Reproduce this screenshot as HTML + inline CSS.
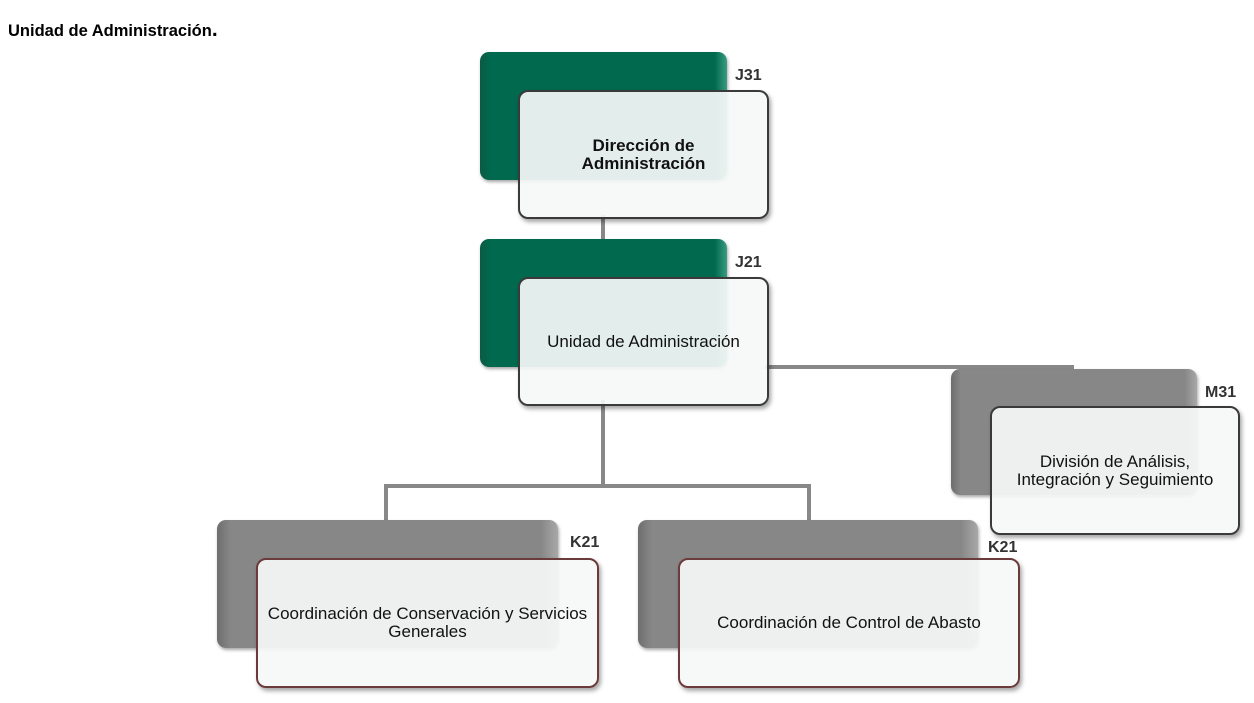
<!DOCTYPE html>
<html><head><meta charset="utf-8"><style>
body{margin:0;width:1254px;height:703px;background:#fff;position:relative;overflow:hidden;font-family:"Liberation Sans",Arial,sans-serif}
.a{position:absolute}
.back{position:absolute;border-radius:9px;box-shadow:1px 2px 3px rgba(0,0,0,.35)}
.g{background:linear-gradient(90deg,#0c5a44 0,#00694e 4%,#00694e 95%,#3a9c80 100%)}
.k{background:linear-gradient(90deg,#6e6e6e 0,#878787 4%,#878787 95%,#a8a8a8 100%)}
.front{position:absolute;border-radius:10px;border:2px solid #3a3a3a;background:rgba(246,248,248,.92);box-shadow:2px 3px 4px rgba(0,0,0,.35);display:flex;align-items:center;justify-content:center;text-align:center;font-size:17px;color:#111;line-height:18px;box-sizing:border-box}
.fr{border-color:#6b3a3a}
.lbl{position:absolute;font-weight:bold;font-size:16px;color:#333}
.ln{position:absolute;background:#888}
</style></head><body>
<div class="a" style="left:8px;top:18px;font-weight:bold;font-size:16.5px">Unidad de Administración<span style="font-size:21px">.</span></div>

<div class="ln" style="left:601px;top:215px;width:4px;height:26px"></div>
<div class="ln" style="left:601px;top:400px;width:4px;height:88px"></div>
<div class="ln" style="left:384px;top:484px;width:427px;height:4px"></div>
<div class="ln" style="left:384px;top:484px;width:4px;height:38px"></div>
<div class="ln" style="left:807px;top:484px;width:4px;height:38px"></div>
<div class="ln" style="left:765px;top:365px;width:309px;height:4px"></div>

<div class="back g" style="left:480px;top:52px;width:247px;height:128px"></div>
<div class="lbl" style="left:735px;top:67px">J31</div>
<div class="front" style="left:518px;top:90px;width:251px;height:129px;font-weight:bold">Dirección de<br>Administración</div>

<div class="back g" style="left:480px;top:239px;width:247px;height:128px"></div>
<div class="lbl" style="left:735px;top:254px">J21</div>
<div class="front" style="left:518px;top:277px;width:251px;height:129px">Unidad de Administración</div>

<div class="back k" style="left:951px;top:369px;width:246px;height:126px"></div>
<div class="lbl" style="left:1205px;top:384px">M31</div>
<div class="front" style="left:990px;top:406px;width:250px;height:129px">División de Análisis,<br>Integración y Seguimiento</div>

<div class="back k" style="left:217px;top:520px;width:341px;height:128px"></div>
<div class="lbl" style="left:570px;top:534px">K21</div>
<div class="front fr" style="left:256px;top:558px;width:343px;height:130px">Coordinación de Conservación y Servicios<br>Generales</div>

<div class="back k" style="left:638px;top:520px;width:340px;height:128px"></div>
<div class="lbl" style="left:988px;top:539px">K21</div>
<div class="front fr" style="left:678px;top:558px;width:342px;height:130px">Coordinación de Control de Abasto</div>
</body></html>
